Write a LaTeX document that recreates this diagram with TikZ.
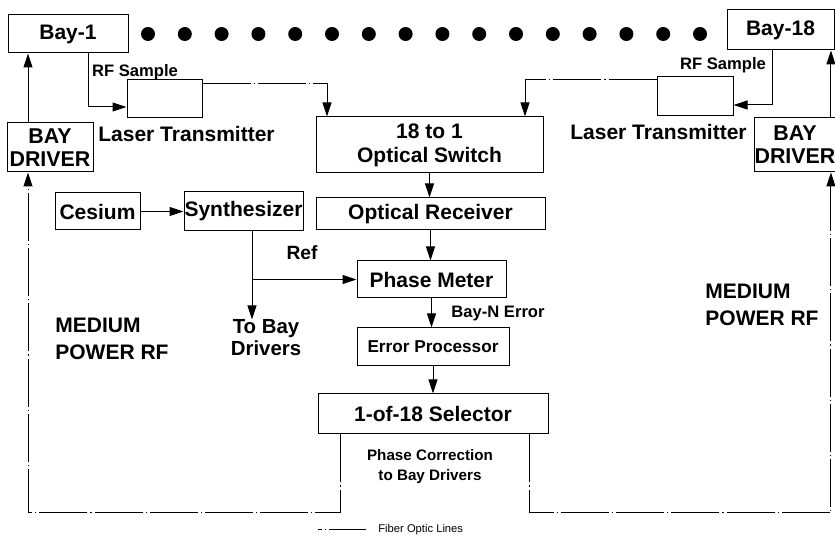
\documentclass[tikz,border=0pt]{standalone}
\usepackage{fontspec}
\setmainfont{Liberation Sans}
\usetikzlibrary{positioning, arrows.meta, calc}

\begin{document}
\begin{tikzpicture}[x=0.5pt, y=-0.5pt,
    unit/.style={draw=black, line width=0.5pt, inner sep=0pt, align=center, font=\fontsize{10.5}{12}\selectfont\bfseries},
    tag/.style={inner sep=0pt, align=center, font=\fontsize{8.3}{10}\selectfont\bfseries},
    big/.style={inner sep=0pt, align=left, font=\fontsize{10.5}{13.5}\selectfont\bfseries},
    arrowed/.style={-{Triangle[length=7pt, width=4.5pt]}},
    link/.style={line width=0.5pt, arrowed},
    fiber/.style={line width=0.5pt, dash pattern=on 24pt off 1.5pt on 0.6pt off 1.5pt}
]
\useasboundingbox (0,0) rectangle (835,549);

% Bays along the top
\node[unit, minimum width=60pt, minimum height=19pt] (bay1) at (68,34) {Bay-1};
\node[unit, minimum width=53.5pt, minimum height=20pt] (bay18) at (780.5,30) {Bay-18};
\foreach \i in {0,...,15}
    \fill ({148+36.8*\i},34) circle (3.5pt);

% Laser transmitters
\node[unit, minimum width=37.5pt, minimum height=19pt] (txA) at (164.5,99) {};
\node[big] (txAlab) at (186.5,134) {Laser Transmitter};
\node[unit, minimum width=38pt, minimum height=19.5pt] (txB) at (695,96.5) {};
\node[big] (txBlab) at (658.5,132) {Laser Transmitter};
\node[tag] (smpA) at (135,72) {RF Sample};
\node[tag] (smpB) at (723,65) {RF Sample};

% Bay drivers
\node[unit, minimum width=43pt, minimum height=24.5pt, font=\fontsize{10.7}{11.5}\selectfont\bfseries] (drvA) at (50,147.5) {BAY\\DRIVER};
\node[unit, minimum width=40pt, minimum height=27pt, font=\fontsize{10.7}{11.5}\selectfont\bfseries] (drvB) at (795,145) {BAY\\DRIVER};

% Central chain
\node[unit, minimum width=113.5pt, minimum height=28pt] (switch) at (429.5,145) {18 to 1\\Optical Switch};
\node[unit, minimum width=114.5pt, minimum height=16pt] (recv) at (430.5,214) {Optical Receiver};
\node[unit, minimum width=74.5pt, minimum height=18.5pt] (phase) at (431.5,279.5) {Phase Meter};
\node[unit, minimum width=76pt, minimum height=19pt, font=\fontsize{8.6}{10}\selectfont\bfseries] (errp) at (433,347) {Error Processor};
\node[unit, minimum width=115pt, minimum height=20pt] (sel) at (433,414) {1-of-18 Selector};
\node[tag, font=\fontsize{7.6}{10}\selectfont\bfseries] (corr) at (430,467) {Phase Correction\\to Bay Drivers};
\node[tag] (nerr) at (498,314) {Bay-N Error};

% Reference
\node[unit, minimum width=42.5pt, minimum height=18.5pt] (cesium) at (97.5,211.5) {Cesium};
\node[unit, minimum width=59.5pt, minimum height=19.5pt] (synth) at (243.5,211.5) {Synthesizer};
\node[big, align=center, font=\fontsize{10.2}{11}\selectfont\bfseries] (tobay) at (266,338) {To Bay\\Drivers};
\node[tag, font=\fontsize{9.6}{11}\selectfont\bfseries] (reflab) at (302,253) {Ref};

\node[big, anchor=west] (powA) at (55,339) {MEDIUM\\POWER RF};
\node[big, anchor=west] (powB) at (705,305) {MEDIUM\\POWER RF};

% RF samples into the transmitters
\coordinate (sampA) at (88,107);
\coordinate (sampB) at (772,105);
\draw[link] (bay1.south -| sampA) -- (sampA) -- (sampA -| txA.west);
\draw[link] (bay18.south -| sampB) -- (sampB) -- (sampB -| txB.east);

% fiber into the switch
\coordinate (inA) at (327,84);
\coordinate (inB) at (525,80);
\draw[fiber, arrowed] (inA -| txA.east) -- (inA) -- (inA |- switch.north);
\draw[fiber, arrowed] (inB -| txB.west) -- (inB) -- (inB |- switch.north);

% drivers up to bays
\draw[link] ([xshift=-11pt]drvA.north) -- ([xshift=-11pt]drvA.north |- bay1.south);
\draw[link] ([xshift=-2.5pt]drvB.north east) -- ([xshift=-2.5pt]drvB.north east |- bay18.south);

% chain
\draw[link] (switch.south) -- (switch.south |- recv.north);
\draw[link] (recv.south) -- (recv.south |- phase.north);
\draw[link] (phase.south) -- (phase.south |- errp.north);
\draw[link] (errp.south) -- (errp.south |- sel.north);
\draw[link] (cesium.east) -- (synth.west);
\coordinate (refjoin) at (252,279.5);
\draw[link] (synth.south -| refjoin) -- (tobay.north -| refjoin);
\draw[link] (refjoin) -- (phase.west);

% correction back to the drivers
\coordinate (retA) at (340,513);
\coordinate (retB) at (529,513);
\coordinate (feedA) at ([xshift=-11pt]drvA.south);
\coordinate (feedB) at ([xshift=-2.5pt]drvB.south east);
\draw[fiber, arrowed] (retA |- sel.south) -- (retA) -- (retA -| feedA) -- (feedA);
\draw[fiber, arrowed] (retB |- sel.south) -- (retB) -- (retB -| feedB) -- (feedB);

% legend
\coordinate (legA) at (318,530);
\coordinate (legB) at (366,530);
\draw[fiber, dash phase=22pt] (legA) -- (legB);
\node[inner sep=0pt, anchor=west, font=\fontsize{5.6}{7}\selectfont] (leglab) at (378,530) {Fiber Optic Lines};

\end{tikzpicture}
\end{document}
